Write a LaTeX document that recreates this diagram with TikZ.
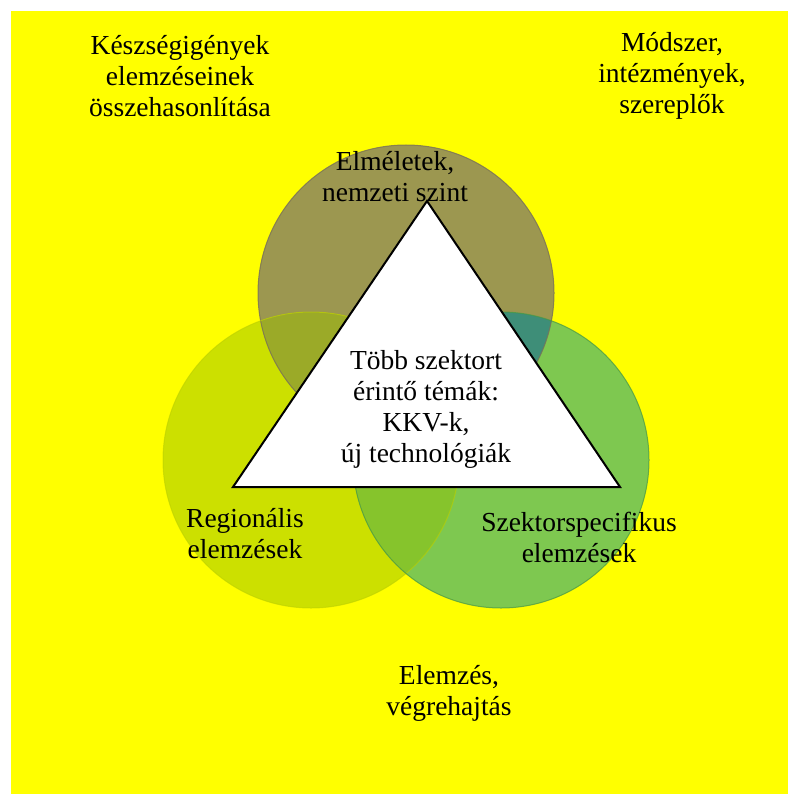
\documentclass[tikz,border=0pt]{standalone}
\usepackage{fontspec}
\setmainfont{Liberation Serif}
\begin{document}
\definecolor{bgyellow}{RGB}{255,255,0}
\definecolor{topfill}{RGB}{156,151,80}
\definecolor{leftfill}{RGB}{204,224,0}
\definecolor{rightfill}{RGB}{126,200,80}
\definecolor{tlfill}{RGB}{155,170,40}
\definecolor{trfill}{RGB}{62,142,120}
\definecolor{lrfill}{RGB}{134,196,44}
\definecolor{topedge}{RGB}{120,112,88}
\definecolor{leftedge}{RGB}{188,208,0}
\definecolor{rightedge}{RGB}{70,150,70}
\begin{tikzpicture}[x=1pt,y=-1pt,
  lbl/.style={align=center,inner sep=0pt,font=\fontsize{27.5}{31}\selectfont},
  tri/.style={fill=white,draw=black,line width=2pt,line join=miter}]
\useasboundingbox (0,0) rectangle (788,794);
\fill[bgyellow] (11,11) rectangle (788,794);
% circle centres
\coordinate (ct) at (406,293);
\coordinate (cl) at (311,460);
\coordinate (cr) at (501,460);
\def\rad{148}
% plain discs
\fill[topfill] (ct) circle (\rad);
\fill[leftfill] (cl) circle (\rad);
\fill[rightfill] (cr) circle (\rad);
% pairwise overlaps
\begin{scope}
  \clip (ct) circle (\rad);
  \fill[tlfill] (cl) circle (\rad);
\end{scope}
\begin{scope}
  \clip (ct) circle (\rad);
  \fill[trfill] (cr) circle (\rad);
\end{scope}
\begin{scope}
  \clip (cl) circle (\rad);
  \fill[lrfill] (cr) circle (\rad);
\end{scope}
% soft rims
\draw[topedge,line width=1pt,opacity=0.8] (ct) circle (\rad);
\draw[leftedge,line width=1pt,opacity=0.6] (cl) circle (\rad);
\draw[rightedge,line width=1pt,opacity=0.7] (cr) circle (\rad);
% central triangle
\coordinate (ta) at (427,201);
\coordinate (tb) at (233,487);
\coordinate (tc) at (620,487);
\draw[tri] (ta) -- (tb) -- (tc) -- cycle;
% labels
\node[lbl] (skills) at (180,76) {Készségigények\\elemzéseinek\\összehasonlítása};
\node[lbl] (method) at (672,76) {Módszer,\\intézmények,\\szereplők};
\node[lbl] (theory) at (395,177) {Elméletek,\\nemzeti szint};
\node[lbl] (cross) at (426,409) {Több szektort\\érintő témák:\\KKV-k,\\új technológiák};
\node[lbl] (region) at (245,534) {Regionális\\elemzések};
\node[lbl] (sector) at (579,537) {Szektorspecifikus\\elemzések};
\node[lbl] (impl) at (449,693) {Elemzés,\\végrehajtás};
\end{tikzpicture}
\end{document}
